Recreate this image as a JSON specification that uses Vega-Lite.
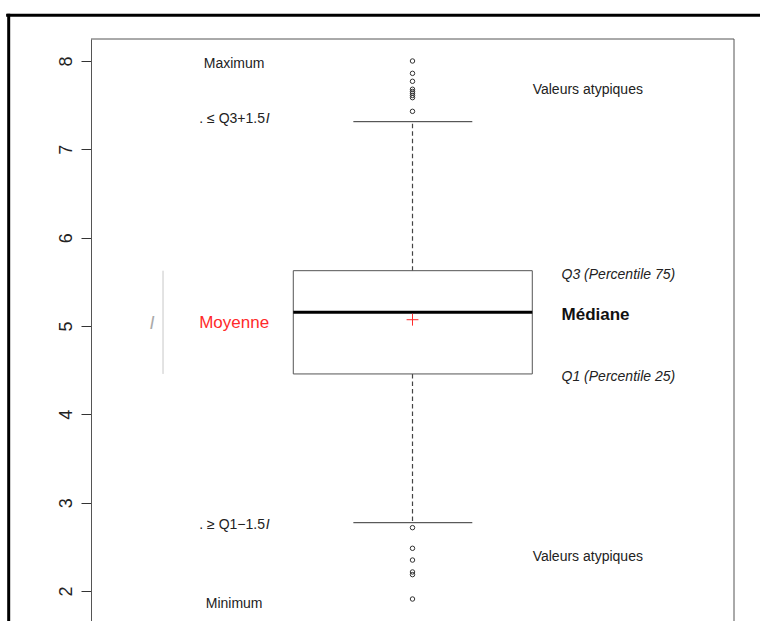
{
  "$schema": "https://vega.github.io/schema/vega-lite/v6.json",
  "width": 643,
  "height": 582,
  "autosize": {"type": "none"},
  "padding": {"left": 91, "top": 39, "right": 26, "bottom": 0},
  "background": "white",
  "config": {
    "font": "Liberation Sans",
    "view": {"stroke": null},
    "axisY": {
      "grid": false,
      "labelAngle": 270, "labelAlign": "center", "labelBaseline": "bottom", "labelPadding": 6,
      "labelFontSize": 18, "labelColor": "#222", "labelFont": "Liberation Sans",
      "labelFlush": false, "labelOverlap": false, "labelBound": false,
      "tickSize": 10, "tickColor": "#333", "tickWidth": 1,
      "domainColor": "#555", "domainWidth": 1,
      "titleColor": "transparent", "titleFontSize": 1
    }
  },
  "datasets": {
    "stats": [{"lower": 2.773, "q1": 4.457, "median": 5.155, "mean": 5.071, "q3": 5.626, "upper": 7.313}],
    "whiskers": [{"from": 5.626, "to": 7.313}, {"from": 4.457, "to": 2.773}],
    "caps": [{"value": 7.313}, {"value": 2.773}],
    "outliers": [
      {"value": 8.0}, {"value": 7.86}, {"value": 7.77}, {"value": 7.68}, {"value": 7.655},
      {"value": 7.635}, {"value": 7.61}, {"value": 7.585}, {"value": 7.43},
      {"value": 2.717}, {"value": 2.483}, {"value": 2.35}, {"value": 2.215}, {"value": 2.185}, {"value": 1.909}
    ],
    "centerLabels": [{"label": "Maximum", "value": 7.966}, {"label": "Minimum", "value": 1.853}],
    "whiskerLabels": [{"label": ". ≤ Q3+1.5", "value": 7.34}, {"label": ". ≥ Q1−1.5", "value": 2.752}],
    "outlierLabels": [{"label": "Valeurs atypiques", "value": 7.672}, {"label": "Valeurs atypiques", "value": 2.379}],
    "quartileLabels": [{"label": "Q3 (Percentile 75)", "value": 5.58}, {"label": "Q1 (Percentile 25)", "value": 4.428}],
    "medianLabel": [{"label": "Médiane", "value": 5.128}],
    "meanLabel": [{"label": "Moyenne", "value": 5.034}],
    "iqrLabel": [{"label": "I", "value": 5.017}]
  },
  "layer": [
    {
      "data": {"name": "outliers"},
      "mark": {"type": "point", "shape": "circle", "filled": false, "size": 20, "stroke": "#333", "strokeWidth": 1, "opacity": 1},
      "encoding": {
        "x": {"datum": 0.5, "type": "quantitative", "scale": {"domain": [0, 1], "nice": false, "zero": false}, "axis": null},
        "y": {
          "field": "value", "type": "quantitative",
          "scale": {"domain": [1.66, 8.249], "nice": false, "zero": false},
          "axis": {"values": [2, 3, 4, 5, 6, 7, 8], "format": "d", "title": null, "labelFontSize": 18, "labelAngle": 270, "labelPadding": 6}
        }
      }
    },
    {
      "data": {"values": [{}]},
      "mark": {"type": "rule", "color": "#000", "strokeWidth": 3},
      "encoding": {
        "x": {"datum": -0.132, "type": "quantitative", "axis": null},
        "x2": {"datum": 1.2},
        "y": {"datum": 8.517, "type": "quantitative"}
      }
    },
    {
      "data": {"values": [{}]},
      "mark": {"type": "rule", "color": "#000", "strokeWidth": 3},
      "encoding": {
        "x": {"datum": -0.128, "type": "quantitative", "axis": null},
        "y": {"datum": 1.0, "type": "quantitative"},
        "y2": {"datum": 8.534}
      }
    },
    {
      "data": {"values": [{}]},
      "mark": {"type": "rule", "color": "#555", "strokeWidth": 1},
      "encoding": {
        "x": {"datum": 0, "type": "quantitative", "axis": null},
        "x2": {"datum": 1},
        "y": {"datum": 8.249, "type": "quantitative"}
      }
    },
    {
      "data": {"values": [{}]},
      "mark": {"type": "rule", "color": "#555", "strokeWidth": 1},
      "encoding": {
        "x": {"datum": 1, "type": "quantitative", "axis": null},
        "y": {"datum": 1.5, "type": "quantitative"},
        "y2": {"datum": 8.249}
      }
    },
    {
      "data": {"name": "whiskers"},
      "mark": {"type": "rule", "color": "#444", "strokeWidth": 1.2, "strokeDash": [4.5, 3]},
      "encoding": {
        "x": {"datum": 0.5, "type": "quantitative", "axis": null},
        "y": {"field": "from", "type": "quantitative"},
        "y2": {"field": "to"}
      }
    },
    {
      "data": {"name": "caps"},
      "mark": {"type": "rule", "color": "#333", "strokeWidth": 1},
      "encoding": {
        "x": {"datum": 0.408, "type": "quantitative", "axis": null},
        "x2": {"datum": 0.593},
        "y": {"field": "value", "type": "quantitative"}
      }
    },
    {
      "data": {"name": "stats"},
      "mark": {"type": "rect", "fill": "white", "fillOpacity": 0, "stroke": "#555", "strokeWidth": 1},
      "encoding": {
        "x": {"datum": 0.3146, "type": "quantitative", "axis": null},
        "x2": {"datum": 0.6863},
        "y": {"field": "q1", "type": "quantitative"},
        "y2": {"field": "q3"}
      }
    },
    {
      "data": {"name": "stats"},
      "mark": {"type": "rule", "color": "#000", "strokeWidth": 3},
      "encoding": {
        "x": {"datum": 0.3146, "type": "quantitative", "axis": null},
        "x2": {"datum": 0.6863},
        "y": {"field": "median", "type": "quantitative"}
      }
    },
    {
      "data": {"name": "stats"},
      "mark": {"type": "point", "shape": "M-1,0L1,0M0,-1L0,1", "filled": false, "size": 140, "stroke": "#ff2a2a", "strokeWidth": 1, "opacity": 1},
      "encoding": {
        "x": {"datum": 0.5, "type": "quantitative", "axis": null},
        "y": {"field": "mean", "type": "quantitative"}
      }
    },
    {
      "data": {"name": "stats"},
      "mark": {"type": "rule", "color": "#c8c8c8", "strokeWidth": 1},
      "encoding": {
        "x": {"datum": 0.112, "type": "quantitative", "axis": null},
        "y": {"field": "q1", "type": "quantitative"},
        "y2": {"field": "q3"}
      }
    },
    {
      "data": {"name": "iqrLabel"},
      "mark": {"type": "text", "fontSize": 18, "fontStyle": "italic", "color": "#aaaaaa", "align": "center", "baseline": "middle"},
      "encoding": {
        "x": {"datum": 0.095, "type": "quantitative", "axis": null},
        "y": {"field": "value", "type": "quantitative"},
        "text": {"field": "label"}
      }
    },
    {
      "data": {"name": "centerLabels"},
      "mark": {"type": "text", "fontSize": 14, "color": "#222", "align": "center", "baseline": "middle"},
      "encoding": {
        "x": {"datum": 0.2226, "type": "quantitative", "axis": null},
        "y": {"field": "value", "type": "quantitative"},
        "text": {"field": "label"}
      }
    },
    {
      "data": {"name": "whiskerLabels"},
      "mark": {"type": "text", "fontSize": 14, "color": "#222", "align": "right", "baseline": "middle"},
      "encoding": {
        "x": {"datum": 0.2706, "type": "quantitative", "axis": null},
        "y": {"field": "value", "type": "quantitative"},
        "text": {"field": "label"}
      }
    },
    {
      "data": {"name": "whiskerLabels"},
      "mark": {"type": "text", "fontSize": 14, "fontStyle": "italic", "color": "#222", "align": "left", "baseline": "middle", "text": "I"},
      "encoding": {
        "x": {"datum": 0.2716, "type": "quantitative", "axis": null},
        "y": {"field": "value", "type": "quantitative"}
      }
    },
    {
      "data": {"name": "outlierLabels"},
      "mark": {"type": "text", "fontSize": 14, "color": "#222", "align": "left", "baseline": "middle"},
      "encoding": {
        "x": {"datum": 0.6869, "type": "quantitative", "axis": null},
        "y": {"field": "value", "type": "quantitative"},
        "text": {"field": "label"}
      }
    },
    {
      "data": {"name": "quartileLabels"},
      "mark": {"type": "text", "fontSize": 14, "fontStyle": "italic", "color": "#222", "align": "left", "baseline": "middle"},
      "encoding": {
        "x": {"datum": 0.7318, "type": "quantitative", "axis": null},
        "y": {"field": "value", "type": "quantitative"},
        "text": {"field": "label"}
      }
    },
    {
      "data": {"name": "medianLabel"},
      "mark": {"type": "text", "fontSize": 17, "fontWeight": "bold", "color": "#111", "align": "left", "baseline": "middle"},
      "encoding": {
        "x": {"datum": 0.7318, "type": "quantitative", "axis": null},
        "y": {"field": "value", "type": "quantitative"},
        "text": {"field": "label"}
      }
    },
    {
      "data": {"name": "meanLabel"},
      "mark": {"type": "text", "fontSize": 17, "color": "#ff2a2a", "align": "center", "baseline": "middle"},
      "encoding": {
        "x": {"datum": 0.2226, "type": "quantitative", "axis": null},
        "y": {"field": "value", "type": "quantitative"},
        "text": {"field": "label"}
      }
    }
  ]
}
